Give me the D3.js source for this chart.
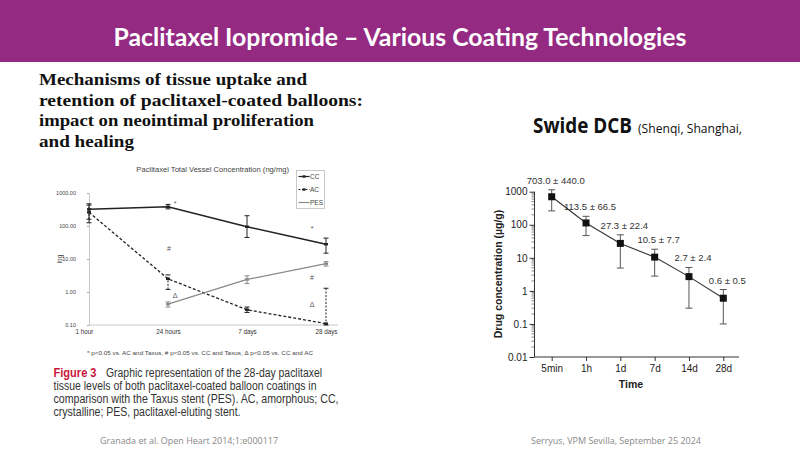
<!DOCTYPE html>
<html><head><meta charset="utf-8">
<script src="https://cdn.jsdelivr.net/npm/d3@7"></script>
<style>html,body{margin:0;padding:0;background:#fff}svg{display:block}</style>
</head><body>
<svg id="c" width="800" height="450"></svg>
<script>
// ---------- data ----------
const leftCategories = ["1 hour", "24 hours", "7 days", "28 days"];
const ccMean  = [320, 380, 95, 28];
const ccLow   = [125, 330, 45, 15];
const ccHigh  = [470, 450, 205, 43];
const acMean  = [260, 2.5, 0.29, 0.11];
const acLow   = [160, 1.2, 0.24, 0.10];
const acHigh  = [430, 3.3, 0.35, 1.3];
const pesMean = [null, 0.43, 2.4, 7.2];
const pesLow  = [null, 0.35, 1.8, 6.1];
const pesHigh = [null, 0.50, 3.1, 8.3];
const leftTicks = [0.1, 1, 10, 100, 1000];
const leftSeriesNames = ["CC", "AC", "PES"];
const annotSymbols = ["*", "*", "#", "#", "\u0394", "\u0394"];
const annotCategory = ["24 hours", "28 days", "24 hours", "28 days", "24 hours", "28 days"];
const annotValue = [508, 89, 22, 2.9, 0.81, 0.43];

const rightCategories = ["5min", "1h", "1d", "7d", "14d", "28d"];
const rightMean = [703.0, 113.5, 27.3, 10.5, 2.7, 0.6];
const rightSD   = [440.0, 66.5, 22.4, 7.7, 2.4, 0.5];
const rightTicks = [0.01, 0.1, 1, 10, 100, 1000];

const svg = d3.select("#c");

// ---------- header ----------
svg.append("rect").attr("x",0).attr("y",0).attr("width",800).attr("height",62).attr("fill","#952a83");
svg.append("text").attr("x",400).attr("y",46).attr("text-anchor","middle")
  .attr("font-family","Lato, 'Open Sans', sans-serif").attr("font-weight","bold").attr("font-size",25)
  .attr("fill","#fff").attr("textLength",573).attr("lengthAdjust","spacingAndGlyphs")
  .text("Paclitaxel Iopromide \u2013 Various Coating Technologies");

// ---------- left title ----------
const titleLines = ["Mechanisms of tissue uptake and","retention of paclitaxel-coated balloons:","impact on neointimal proliferation","and healing"];
const titleLens = [268, 324, 275, 95];
titleLines.forEach((t,i)=>{
  svg.append("text").attr("x",39).attr("y",85+i*20.5)
    .attr("font-family","'Liberation Serif', serif").attr("font-weight","bold").attr("font-size",17.5)
    .attr("fill","#111").attr("textLength",titleLens[i]).attr("lengthAdjust","spacingAndGlyphs").text(t);
});

// ---------- left chart ----------
const sans = "'Liberation Sans', Arial, sans-serif";
const lx = d3.scalePoint().domain(leftCategories).range([89, 326]);
const ly = d3.scaleLog().domain([0.1, 1000]).range([325, 193]);
const L = svg.append("g");
L.append("text").attr("x",212.7).attr("y",172).attr("text-anchor","middle")
  .attr("font-family",sans).attr("font-size",7.6).attr("fill","#444")
  .text("Paclitaxel Total Vessel Concentration (ng/mg)");
const lya = L.append("g").attr("transform","translate(89,0)")
  .call(d3.axisLeft(ly).tickValues(leftTicks).tickFormat(d3.format(".2f")).tickSize(2));
lya.select(".domain").attr("stroke","#c8c8c8");
lya.selectAll(".tick line").attr("stroke","#aaa");
lya.selectAll(".tick text").attr("font-family",sans).attr("font-size",5.5).attr("fill","#444").attr("dx",-8);
const lxa = L.append("g").attr("transform","translate(0,325)")
  .call(d3.axisBottom(lx).tickSize(0).tickPadding(5));
lxa.select(".domain").attr("d","M89,0H338").attr("stroke","#c8c8c8");
lxa.selectAll(".tick text").attr("font-family",sans).attr("font-size",6.3).attr("fill","#333");
lxa.selectAll(".tick").filter(d=>d==="1 hour").select("text").attr("dx",-5);
L.append("text").attr("transform","translate(62,259) rotate(-90)").attr("text-anchor","middle")
  .attr("font-family",sans).attr("font-size",6.5).attr("fill","#444").text("log");

const leftSeries = [
  {name:"CC", mean:ccMean, lo:ccLow, hi:ccHigh, color:"#222", dash:null, w:1.5},
  {name:"AC", mean:acMean, lo:acLow, hi:acHigh, color:"#222", dash:"3,2", w:1.3},
  {name:"PES", mean:pesMean, lo:pesLow, hi:pesHigh, color:"#8a8a8a", dash:null, w:1.3}
];
leftSeries.forEach(s=>{
  const pts = leftCategories.map((c,i)=>({c, v:s.mean[i], lo:s.lo[i], hi:s.hi[i]})).filter(p=>p.v!=null);
  L.append("path").datum(pts).attr("fill","none").attr("stroke",s.color).attr("stroke-width",s.w)
    .attr("stroke-dasharray",s.dash)
    .attr("d",d3.line().x(p=>lx(p.c)).y(p=>ly(p.v)));
  const g = L.append("g");
  pts.forEach(p=>{
    g.append("line").attr("x1",lx(p.c)).attr("x2",lx(p.c)).attr("y1",ly(p.lo)).attr("y2",ly(p.hi))
      .attr("stroke",s.color).attr("stroke-width",1).attr("stroke-dasharray",s.name==="AC"?"2,1.5":null);
    [p.lo,p.hi].forEach(v=>g.append("line").attr("x1",lx(p.c)-2.5).attr("x2",lx(p.c)+2.5).attr("y1",ly(v)).attr("y2",ly(v))
      .attr("stroke",s.color).attr("stroke-width",1));
    g.append("rect").attr("x",lx(p.c)-2).attr("y",ly(p.v)-1.2).attr("width",4).attr("height",2.4).attr("fill",s.color);
  });
});
// annotations
const annDx = {"24 hours": 7, "28 days": -14};
annotSymbols.forEach((s,i)=>{
  L.append("text").attr("x",lx(annotCategory[i]) + (i===2?1:annDx[annotCategory[i]])).attr("y",ly(annotValue[i])+3)
    .attr("text-anchor","middle").attr("font-family",sans).attr("font-size",7)
    .attr("fill","#555").text(s);
});
// legend
const lg = L.append("g");
lg.append("rect").attr("x",296.5).attr("y",170.5).attr("width",28).attr("height",38).attr("fill","#fff").attr("stroke","#bbb").attr("stroke-width",0.8);
leftSeries.forEach((s,i)=>{
  const y = 176.5 + i*13;
  lg.append("line").attr("x1",298.5).attr("x2",309.5).attr("y1",y).attr("y2",y).attr("stroke",s.color).attr("stroke-width",1.2).attr("stroke-dasharray",s.dash?"2,1.5":null);
  if (s.name!=="PES") lg.append("rect").attr("x",302.5).attr("y",y-1.2).attr("width",3).attr("height",2.4).attr("fill",s.color);
  lg.append("text").attr("x",310).attr("y",y+2.3).attr("font-family",sans).attr("font-size",6.5).attr("fill","#444").text(leftSeriesNames[i]);
});
// footnote & caption
svg.append("text").attr("x",200).attr("y",355).attr("text-anchor","middle")
  .attr("font-family",sans).attr("font-size",5.8).attr("fill","#444")
  .attr("textLength",226).attr("lengthAdjust","spacingAndGlyphs")
  .text("* p<0.05 vs. AC and Taxus, # p<0.05 vs. CC and Taxus, \u0394 p<0.05 vs. CC and AC");
const capLines = ["Graphic representation of the 28-day paclitaxel","tissue levels of both paclitaxel-coated balloon coatings in","comparison with the Taxus stent (PES). AC, amorphous; CC,","crystalline; PES, paclitaxel-eluting stent."];
const capX = [106, 53.5, 53.5, 53.5];
const capLen = [216, 263, 285, 187];
const cap = svg.append("g").attr("font-family",sans).attr("font-size",12.5).attr("fill","#333");
cap.append("text").attr("x",53.5).attr("y",376.5).attr("fill","#c8143c").attr("font-weight","bold").attr("textLength",43).attr("lengthAdjust","spacingAndGlyphs").text("Figure 3");
capLines.forEach((t,i)=>cap.append("text").attr("x",capX[i]).attr("y",376.5+i*13).attr("textLength",capLen[i]).attr("lengthAdjust","spacingAndGlyphs").text(t));

// ---------- right chart ----------
const rt = svg.append("text").attr("y",133).attr("font-family","'Open Sans', sans-serif").attr("fill","#111");
rt.append("tspan").attr("x",533).attr("font-weight","bold").attr("font-size",21).attr("textLength",99).attr("lengthAdjust","spacingAndGlyphs").text("Swide DCB");
rt.append("tspan").attr("x",638).attr("font-size",13.5).attr("textLength",104).attr("lengthAdjust","spacingAndGlyphs").text("(Shenqi, Shanghai,");

const rx = d3.scalePoint().domain(rightCategories).range([551.7, 723.3]);
const ry = d3.scaleLog().domain([0.01, 1000]).range([357, 191.7]);
const R = svg.append("g");
const rya = R.append("g").attr("transform","translate(534.5,0)")
  .call(d3.axisLeft(ry).tickValues(rightTicks).tickFormat(d=>String(d)).tickSize(5).tickPadding(2));
rya.select(".domain").attr("stroke","#333").attr("d","M0,191.7V357");
rya.selectAll(".tick line").attr("stroke","#333");
rya.selectAll(".tick text").attr("font-family",sans).attr("font-size",10).attr("fill","#222");
// minor ticks
const minor = [];
rightTicks.slice(0,-1).forEach(d=>{ for(let k=2;k<10;k++) minor.push(d*k); });
R.append("g").selectAll("line").data(minor).join("line")
  .attr("x1",531.5).attr("x2",534.5).attr("y1",d=>ry(d)).attr("y2",d=>ry(d)).attr("stroke","#555").attr("stroke-width",0.7);
const rxa = R.append("g").attr("transform","translate(0,357)")
  .call(d3.axisBottom(rx).tickSize(4).tickPadding(4));
rxa.select(".domain").attr("d","M534.5,0H739").attr("stroke","#333");
rxa.selectAll(".tick line").attr("stroke","#333");
rxa.selectAll(".tick text").attr("font-family",sans).attr("font-size",10).attr("fill","#222");
R.append("text").attr("x",631).attr("y",388).attr("text-anchor","middle").attr("font-family",sans).attr("font-weight","bold").attr("font-size",10.5).attr("fill","#222").text("Time");
R.append("text").attr("transform","translate(502,274) rotate(-90)").attr("text-anchor","middle").attr("font-family",sans).attr("font-weight","bold").attr("font-size",10.5).attr("fill","#222").text("Drug concentration (\u00b5g/g)");

const rpts = rightCategories.map((c,i)=>({c, v:rightMean[i], sd:rightSD[i]}));
R.append("path").datum(rpts).attr("fill","none").attr("stroke","#333").attr("stroke-width",1.1)
  .attr("d",d3.line().x(p=>rx(p.c)).y(p=>ry(p.v)));
const eb = R.append("g").attr("stroke","#555").attr("stroke-width",1);
rpts.forEach(p=>{
  const x = rx(p.c);
  eb.append("line").attr("x1",x).attr("x2",x).attr("y1",ry(p.v-p.sd)).attr("y2",ry(p.v+p.sd));
  eb.append("line").attr("x1",x-3.5).attr("x2",x+3.5).attr("y1",ry(p.v-p.sd)).attr("y2",ry(p.v-p.sd));
  eb.append("line").attr("x1",x-3.5).attr("x2",x+3.5).attr("y1",ry(p.v+p.sd)).attr("y2",ry(p.v+p.sd));
});
R.append("g").selectAll("rect").data(rpts).join("rect")
  .attr("x",p=>rx(p.c)-3.5).attr("y",p=>ry(p.v)-3.5).attr("width",7).attr("height",7).attr("fill","#111");
const f1 = d3.format(".1f");
R.append("g").selectAll("text").data(rpts).join("text")
  .attr("x",p=>rx(p.c)+4).attr("y",p=>ry(p.v+p.sd)-6)
  .attr("text-anchor","middle").attr("font-family",sans).attr("font-size",9.5).attr("fill","#333")
  .text(p=>f1(p.v)+" \u00b1 "+f1(p.sd));

// ---------- footer ----------
svg.append("text").attr("x",100).attr("y",444).attr("font-family","'Open Sans', sans-serif").attr("font-size",8.6).attr("fill","#888")
  .attr("textLength",178).attr("lengthAdjust","spacingAndGlyphs").text("Granada et al. Open Heart 2014;1:e000117");
svg.append("text").attr("x",531).attr("y",444).attr("font-family","'Open Sans', sans-serif").attr("font-size",8.6).attr("fill","#888")
  .attr("textLength",170).attr("lengthAdjust","spacingAndGlyphs").text("Serryus, VPM Sevilla, September 25 2024");
</script>
</body></html>
